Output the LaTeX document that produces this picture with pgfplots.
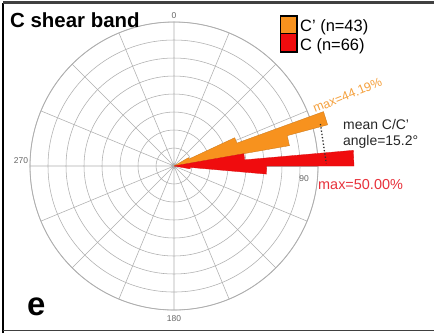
\documentclass[border=0pt]{standalone}
\usepackage{pgfplots}
\pgfplotsset{compat=1.18}
\usepgfplotslibrary{polar}
\usepackage{fontspec}
\setmainfont{Liberation Sans}
\definecolor{barorange}{RGB}{247,146,30}
\definecolor{barred}{RGB}{240,12,14}
\definecolor{txtorange}{RGB}{245,160,60}
\definecolor{txtred}{RGB}{232,50,60}
\definecolor{gridgray}{RGB}{175,175,175}
\begin{document}
\begin{tikzpicture}[x=1bp,y=1bp]
\useasboundingbox (0,0) rectangle (434,-333);
\fill[white] (0,0) rectangle (434,-333);
\begin{polaraxis}[
  at={(174bp,-166bp)}, anchor=origin,
  scale only axis, width=288bp, height=288bp,
  xmin=0, xmax=360, ymin=0, ymax=40,
  xtick={0,22.5,...,337.5}, ytick={5,10,...,40},
  xticklabels={}, yticklabels={},
  major tick length=0pt,
  grid=major,
  major grid style={gridgray, line width=0.55pt},
  axis line style={gridgray, line width=0.8pt},
  clip=false,
]
% C' (n=43) -- angles are mathematical (90 - azimuth), radius in percent
\addplot[fill=barorange, draw=barorange!80!black, line width=0.3pt]
  coordinates {(0,0) (30,4.65) (25,4.65) (25,18.60) (20,18.60) (20,44.19) (15,44.19) (15,32.56) (10,32.56) (0,0)};
% C (n=66)
\addplot[fill=barred, draw=barred!90!black, line width=0.3pt]
  coordinates {(0,0) (10,19.70) (5,19.70) (5,50.00) (0,50.00) (0,25.76) (355,25.76) (355,4.55) (350,4.55) (0,0)};
% mean C/C' angle
\addplot[black!80, line width=1.3pt, dotted]
  coordinates {(16,42.3) (1,42.3)};
\node[gray!80!black, font=\fontsize{8.5}{9}\selectfont] at (axis cs:90,41.8) {0};
\node[gray!80!black, font=\fontsize{8.5}{9}\selectfont, anchor=east] at (axis cs:178,39.6) {270};
\node[gray!80!black, font=\fontsize{8.5}{9}\selectfont] at (axis cs:270,42.3) {180};
\node[gray!80!black, font=\fontsize{8.5}{9}\selectfont, anchor=east] at (axis cs:355,38.6) {90};
\end{polaraxis}
% frame
\draw[black, line width=2.5pt] (3,-333) -- (3,-2.5);
\draw[black!75, line width=2.2pt] (3,-2.5) -- (434,-2.5);
\draw[black!75, line width=1.8pt] (3,-330.5) -- (434,-330.5);
% titles
\node[anchor=base west, font=\bfseries\fontsize{20.5}{23}\selectfont, inner sep=0pt] at (10,-27) {C shear band};
\node[anchor=base west, font=\bfseries\fontsize{33}{36}\selectfont, inner sep=0pt] at (27,-315) {e};
% legend
\draw[fill=barorange, draw=black, line width=1.3pt] (280.5,-16) rectangle (297,-33.5);
\draw[fill=barred, draw=black, line width=1.3pt] (280.5,-33.5) rectangle (297,-52);
\node[anchor=base west, font=\fontsize{16.5}{18}\selectfont, inner sep=0pt] at (300,-31) {C' (n=43)};
\node[anchor=base west, font=\fontsize{16.5}{18}\selectfont, inner sep=0pt] at (300,-50) {C (n=66)};
% annotations
\node[anchor=base west, rotate=22, text=txtorange, font=\fontsize{12.5}{14}\selectfont, inner sep=0pt] at (315,-113) {max=44.19\%};
\node[anchor=base west, text=black!85, font=\fontsize{14}{16}\selectfont, inner sep=0pt] at (343,-129) {mean C/C'};
\node[anchor=base west, text=black!85, font=\fontsize{14}{16}\selectfont, inner sep=0pt] at (343,-145) {angle=15.2°};
\node[anchor=base west, text=txtred, font=\fontsize{14.5}{16}\selectfont, inner sep=0pt] at (318,-189) {max=50.00\%};
\end{tikzpicture}
\end{document}
